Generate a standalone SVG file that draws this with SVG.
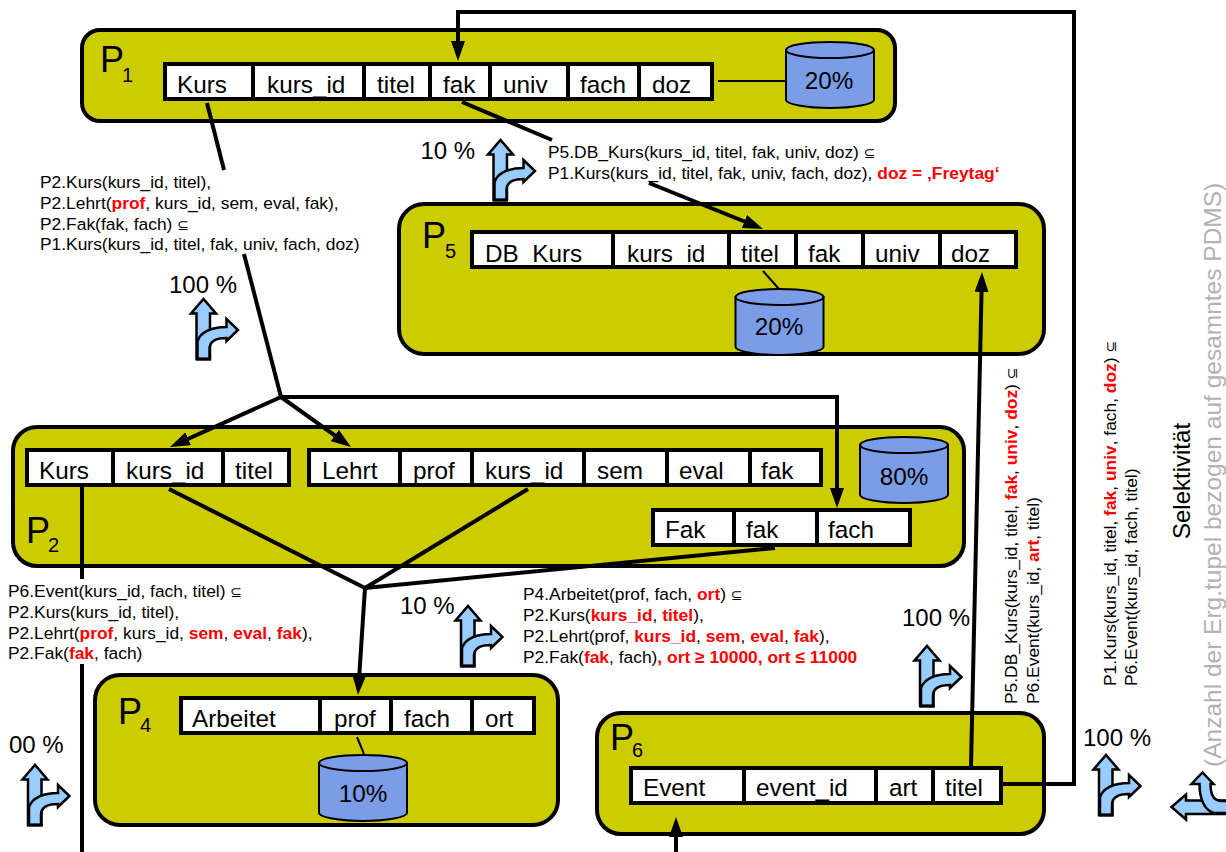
<svg xmlns="http://www.w3.org/2000/svg" xmlns:xlink="http://www.w3.org/1999/xlink" width="1226" height="852" viewBox="0 0 1226 852">
<style>
text{font-family:"Liberation Sans",Arial,sans-serif;fill:#000}
.peer{fill:#cccc00;stroke:#000;stroke-width:4}
.tb{fill:#fff;stroke:#000;stroke-width:4}
.dv{stroke:#000;stroke-width:4;fill:none}
.c{font-size:24.300px}
.p{font-size:36px}
.s{font-size:20px}
.pc{font-size:24px}
.m{font-size:17.400px}
.r{fill:#f00;font-weight:bold}
.sub{font-family:"DejaVu Sans",sans-serif;font-size:14px}
.cyl{fill:#7b9ce6;stroke:#000;stroke-width:2}
.cn{stroke:#000;stroke-width:4;fill:none}
.th{stroke:#000;stroke-width:2;fill:none}
.ic{fill:#99ccff;stroke:#000;stroke-width:2.500}
</style>
<defs>
<marker id="a" markerUnits="userSpaceOnUse" markerWidth="20" markerHeight="14" refX="12" refY="7" orient="auto"><path d="M0,0L20,7L0,14Z" fill="#000"/></marker>
<g id="split">
<path class="ic" d="M-7,60V14.500H-12.500L0,0L12.500,14.500H6.500V60Z"/>
<path class="ic" d="M-6,60V42C-3,33 8,28 23,28V20L34.500,31L23,42V39C14,39 6,41 6,50V60Z"/>
<path d="M-7.500,60H7.500" stroke="#000" stroke-width="3"/>
</g>
<g id="cyl-s">
<path class="cyl" d="M-44,8V58C-44,62 -24,66 0,66S44,62 44,58V8Z"/>
<ellipse class="cyl" cx="0" cy="8" rx="44" ry="8"/>
</g>
</defs>
<rect width="1226" height="852" fill="#fff"/>

<g id="P1">
<rect class="peer" x="82" y="30" width="813" height="91" rx="18"/>
<text class="p" x="100" y="72">P</text><text class="s" x="122" y="82">1</text>
<rect class="tb" x="165" y="64" width="547" height="35"/>
<path class="dv" d="M253,64V99M364,64V99M430,64V99M490,64V99M568,64V99M639,64V99"/>
<text class="c" x="177" y="93">Kurs</text><text class="c" x="267" y="93">kurs_id</text><text class="c" x="377" y="93">titel</text><text class="c" x="443" y="93">fak</text><text class="c" x="503" y="93">univ</text><text class="c" x="580" y="93">fach</text><text class="c" x="652" y="93">doz</text>
<path class="th" d="M718,81H785"/>
<use xlink:href="#cyl-s" href="#cyl-s" x="830" y="42"/>
<text class="c" x="829" y="89" text-anchor="middle">20%</text>
</g>

<g id="P5">
<rect class="peer" x="399" y="204" width="645" height="150" rx="25"/>
<text class="p" x="422" y="248">P</text><text class="s" x="445" y="258">5</text>
<rect class="tb" x="472" y="232" width="544" height="35"/>
<path class="dv" d="M613,232V267M729,232V267M796,232V267M863,232V267M940,232V267"/>
<text class="c" x="485" y="262">DB_Kurs</text><text class="c" x="627" y="262">kurs_id</text><text class="c" x="741" y="262">titel</text><text class="c" x="808" y="262">fak</text><text class="c" x="875" y="262">univ</text><text class="c" x="951" y="262">doz</text>
<path class="th" d="M763,271L779,289"/>
<use xlink:href="#cyl-s" href="#cyl-s" x="779.500" y="289"/>
<text class="c" x="779" y="335" text-anchor="middle">20%</text>
</g>

<g id="P2">
<rect class="peer" x="13" y="427" width="951" height="139" rx="24"/>
<text class="p" x="26" y="543">P</text><text class="s" x="48" y="552">2</text>
<rect class="tb" x="27" y="450" width="262" height="35"/>
<path class="dv" d="M113,450V485M223,450V485"/>
<text class="c" x="39" y="479">Kurs</text><text class="c" x="126" y="479">kurs_id</text><text class="c" x="235" y="479">titel</text>
<rect class="tb" x="309" y="450" width="512" height="35"/>
<path class="dv" d="M400,450V485M472,450V485M584,450V485M667,450V485M750,450V485"/>
<text class="c" x="322" y="479">Lehrt</text><text class="c" x="413" y="479">prof</text><text class="c" x="485" y="479">kurs_id</text><text class="c" x="597" y="479">sem</text><text class="c" x="679" y="479">eval</text><text class="c" x="761" y="479">fak</text>
<rect class="tb" x="653" y="510" width="257" height="35"/>
<path class="dv" d="M734,510V545M817,510V545"/>
<text class="c" x="665" y="538">Fak</text><text class="c" x="746" y="538">fak</text><text class="c" x="828" y="538">fach</text>
<use xlink:href="#cyl-s" href="#cyl-s" x="904" y="437"/>
<text class="c" x="904" y="485" text-anchor="middle">80%</text>
</g>

<g id="P4">
<rect class="peer" x="95" y="675" width="463" height="150" rx="25"/>
<text class="p" x="118" y="724">P</text><text class="s" x="140" y="732">4</text>
<rect class="tb" x="181" y="698" width="353" height="35"/>
<path class="dv" d="M320,698V733M391,698V733M472,698V733"/>
<text class="c" x="192" y="727">Arbeitet</text><text class="c" x="334" y="727">prof</text><text class="c" x="404" y="727">fach</text><text class="c" x="485" y="727">ort</text>
<path class="th" d="M357,737L364,754"/>
<use xlink:href="#cyl-s" href="#cyl-s" x="363" y="755"/>
<text class="c" x="363" y="802" text-anchor="middle">10%</text>
</g>

<g id="P6">
<rect class="peer" x="597" y="713" width="447" height="121" rx="24"/>
<text class="p" x="610" y="750">P</text><text class="s" x="632" y="757">6</text>
<rect class="tb" x="631" y="768" width="370" height="35"/>
<path class="dv" d="M744,768V803M876,768V803M933,768V803"/>
<text class="c" x="643" y="796">Event</text><text class="c" x="756" y="796">event_id</text><text class="c" x="889" y="796">art</text><text class="c" x="945" y="796">titel</text>
</g>

<g id="connectors">
<path class="cn" d="M1002,784H1074V12H458V53" marker-end="url(#a)"/>
<path class="cn" d="M207,103L224,170"/>
<path class="cn" d="M244,254L281,397"/>
<path class="cn" d="M462,102L552,140"/>
<path class="cn" d="M649,183L755.600,226" marker-end="url(#a)"/>
<path class="cn" d="M281,397L177.300,443.700" marker-end="url(#a)"/>
<path class="cn" d="M281,397L344.500,442.400" marker-end="url(#a)"/>
<path class="cn" d="M281,397H837V500" marker-end="url(#a)"/>
<path class="cn" d="M169,489L365,588"/>
<path class="cn" d="M528,489L365,588"/>
<path class="cn" d="M775,548L365,588"/>
<path class="cn" d="M365,588L358.500,687" marker-end="url(#a)"/>
<path class="cn" d="M82,486V579"/>
<path class="cn" d="M82,664V852"/>
<path class="cn" d="M971,766L981.800,280" marker-end="url(#a)"/>
<path class="cn" d="M676,852V825" marker-end="url(#a)"/>
</g>

<g id="mappings">
<text class="m" x="40" y="188">P2.Kurs(kurs_id, titel),</text>
<text class="m" x="40" y="209">P2.Lehrt(<tspan class="r">prof</tspan>, kurs_id, sem, eval, fak),</text>
<text class="m" x="40" y="230">P2.Fak(fak, fach) <tspan class="sub">⊆</tspan></text>
<text class="m" x="40" y="250">P1.Kurs(kurs_id, titel, fak, univ, fach, doz)</text>
<text class="m" x="548" y="158">P5.DB_Kurs(kurs_id, titel, fak, univ, doz) <tspan class="sub">⊆</tspan></text>
<text class="m" x="548" y="179">P1.Kurs(kurs_id, titel, fak, univ, fach, doz), <tspan class="r">doz = ‚Freytag‘</tspan></text>
<text class="m" x="8" y="597">P6.Event(kurs_id, fach, titel) <tspan class="sub">⊆</tspan></text>
<text class="m" x="8" y="618">P2.Kurs(kurs_id, titel),</text>
<text class="m" x="8" y="639">P2.Lehrt(<tspan class="r">prof</tspan>, kurs_id, <tspan class="r">sem</tspan>, <tspan class="r">eval</tspan>, <tspan class="r">fak</tspan>),</text>
<text class="m" x="8" y="659">P2.Fak(<tspan class="r">fak</tspan>, fach)</text>
<text class="m" x="523" y="600">P4.Arbeitet(prof, fach, <tspan class="r">ort</tspan>) <tspan class="sub">⊆</tspan></text>
<text class="m" x="523" y="621">P2.Kurs(<tspan class="r">kurs_id</tspan>, <tspan class="r">titel</tspan>),</text>
<text class="m" x="523" y="642">P2.Lehrt(prof, <tspan class="r">kurs_id</tspan>, <tspan class="r">sem</tspan>, <tspan class="r">eval</tspan>, <tspan class="r">fak</tspan>),</text>
<text class="m" x="523" y="663">P2.Fak(<tspan class="r">fak</tspan>, fach)<tspan class="r">, ort ≥ 10000, ort ≤ 11000</tspan></text>
<text class="m" transform="translate(1017,704) rotate(-90)">P5.DB_Kurs(kurs_id, titel, <tspan class="r">fak</tspan>, <tspan class="r">univ</tspan>, <tspan class="r">doz</tspan>) <tspan class="sub">⊆</tspan></text>
<text class="m" transform="translate(1038.500,704) rotate(-90)">P6.Event(kurs_id, <tspan class="r">art</tspan>, titel)</text>
<text class="m" transform="translate(1116,686) rotate(-90)">P1.Kurs(kurs_id, titel, <tspan class="r">fak</tspan>, <tspan class="r">univ</tspan>, fach, <tspan class="r">doz</tspan>) <tspan class="sub">⊆</tspan></text>
<text class="m" transform="translate(1137,686) rotate(-90)">P6.Event(kurs_id, fach, titel)</text>
</g>

<g id="selectivity">
<use xlink:href="#split" href="#split" transform="translate(500.500,140)"/>
<use xlink:href="#split" href="#split" transform="translate(203.500,299)"/>
<use xlink:href="#split" href="#split" transform="translate(468,606)"/>
<use xlink:href="#split" href="#split" transform="translate(35,765)"/>
<use xlink:href="#split" href="#split" transform="translate(927,646)"/>
<use xlink:href="#split" href="#split" transform="translate(1106,755)"/>
<use xlink:href="#split" href="#split" transform="translate(1171.500,807) rotate(-90)"/>
<text class="pc" x="420.500" y="159">10 %</text>
<text class="pc" x="169" y="293">100 %</text>
<text class="pc" x="400" y="614">10 %</text>
<text class="pc" x="9" y="753">00 %</text>
<text class="pc" x="902" y="626">100 %</text>
<text class="pc" x="1083" y="746">100 %</text>
<text class="pc" transform="translate(1190,539) rotate(-90)">Selektivität</text>
<text style="fill:#b2b2b2;font-size:24.500px" transform="translate(1220.500,767) rotate(-90)">(Anzahl der Erg.tupel bezogen auf gesamntes PDMS)</text>
</g>
</svg>
